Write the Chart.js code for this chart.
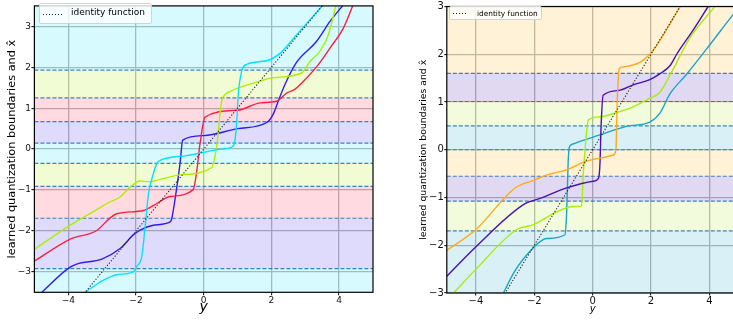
<!DOCTYPE html>
<html>
<head>
<meta charset="utf-8">
<script src="https://cdn.jsdelivr.net/npm/chart.js@4.4.0/dist/chart.umd.min.js"></script>
<style>
  html, body { margin: 0; padding: 0; background: #fff; }
  #wrap { position: relative; width: 733px; height: 320px; overflow: hidden; }
  canvas { position: absolute; top: 0; }
  #left { left: 0; }
  #right { left: 400px; }
  .legend { position: absolute; background: rgba(255,255,255,0.8); border: 1px solid #d3d3d3; border-radius: 2px; box-sizing: border-box; font-family: "DejaVu Sans"; color: #000; white-space: nowrap; }
  .legend .sample { position: absolute; height: 1px; background: repeating-linear-gradient(to right, #222 0 1px, transparent 1px 3px); }
  .legend .label { position: absolute; }
</style>
</head>
<body>
<div id="wrap">
  <canvas id="left" width="380" height="320"></canvas>
  <canvas id="right" width="345" height="320"></canvas>
  <div class="legend" style="left:39px; top:3px; width:113px; height:21px; font-size:9px;">
    <div class="sample" style="left:3px; width:19px; top:10px;"></div>
    <div class="label" style="left:31px; top:3px;">identity function</div>
  </div>
  <div class="legend" style="left:449px; top:6px; width:93px; height:14px; font-size:7.4px;">
    <div class="sample" style="left:3px; width:15px; top:6px;"></div>
    <div class="label" style="left:27px; top:2px;">identity function</div>
  </div>
</div>
<script>
// tick positions
const xTicks = [-4, -2, 0, 2, 4];
const leftYTicks = [-3, -2, -1, 0, 1, 2, 3];
const rightYTicks = [-3, -2, -1, 0, 1, 2, 3];

// learned quantization boundaries
const leftBoundaries = [1.93, 1.25, 0.67, 0.145, -0.35, -0.91, -1.69, -2.92];
const rightBoundaries = [1.60, 1.01, 0.50, 0.0, -0.555, -1.076, -1.70];

// identity function
const identityX = [-5, 5];
const identityY = [-5, 5];

// left panel curves
const leftCyanX = [-3.5, -3.06, -2.57, -2.08, -1.98, -1.83, -1.73, -1.63, -1.49, -1.39, -1.24, -0.5, 0, 0.5, 0.83, 0.92, 0.97, 1.02, 1.12, 1.27, 1.86, 2.25, 2.74, 3.5];
const leftCyanY = [-3.5, -3.25, -3.07, -3.0, -2.87, -2.63, -1.9, -1.09, -0.61, -0.36, -0.26, -0.16, -0.08, 0.0, 0.05, 0.2, 0.6, 1.33, 1.9, 2.07, 2.16, 2.34, 2.79, 3.5];

const leftYellowX = [-5, -3.94, -3.16, -2.81, -2.47, -2.15, -1.88, -1.63, -1.28, -0.7, 0.24, 0.3, 0.38, 0.53, 0.63, 0.78, 1.66, 2.0, 2.89, 3.14, 3.43, 3.68, 3.92];
const leftYellowY = [-2.45, -1.86, -1.48, -1.31, -1.17, -0.91, -0.78, -0.8, -0.74, -0.63, -0.45, -0.3, 0.04, 1.17, 1.33, 1.41, 1.66, 1.74, 1.86, 2.14, 2.39, 2.79, 3.56];

const leftRedX = [-5, -3.94, -3.16, -2.76, -2.57, -1.78, -1.49, -0.99, -0.31, -0.21, -0.11, 0.04, 1.0, 1.66, 2.15, 2.45, 2.69, 3.04, 3.38, 3.73, 4.12, 4.41];
const leftRedY = [-2.74, -2.2, -1.99, -1.68, -1.58, -1.5, -1.38, -1.16, -0.99, -0.57, 0.12, 0.78, 0.95, 1.13, 1.17, 1.37, 1.46, 1.74, 2.06, 2.47, 2.95, 3.52];

const leftBlueX = [-4.78, -3.99, -3.75, -3.01, -2.47, -2.08, -1.88, -1.49, -0.99, -0.95, -0.86, -0.7, -0.62, 0, 1.0, 1.86, 2.05, 2.2, 2.4, 2.74, 3.33, 3.73, 4.12];
const leftBlueY = [-3.5, -2.91, -2.81, -2.69, -2.43, -2.1, -1.98, -1.86, -1.78, -1.72, -1.3, -0.36, 0.22, 0.33, 0.5, 0.65, 0.85, 1.17, 1.58, 2.12, 2.63, 3.12, 3.52];

// right panel curves
const rightOrangeX = [-5, -4.0, -2.66, -2.03, -1.58, -0.89, -0.26, 0.3, 0.71, 0.8, 0.84, 0.91, 0.99, 1.62, 1.96, 2.3, 3.0];
const rightOrangeY = [-2.11, -1.67, -0.8, -0.64, -0.53, -0.42, -0.25, -0.17, -0.11, 0.02, 0.97, 1.69, 1.73, 1.83, 2.0, 2.28, 3.0];

const rightIndigoX = [-5, -4.0, -2.32, -1.8, -0.89, 0.02, 0.2, 0.25, 0.29, 0.36, 0.88, 1.39, 1.96, 2.3, 2.65, 2.88, 3.45, 3.96];
const rightIndigoY = [-2.65, -2.03, -1.13, -1.02, -0.8, -0.66, -0.6, -0.3, 0.5, 1.14, 1.24, 1.36, 1.47, 1.59, 1.76, 2.0, 2.51, 3.0];

const rightYellowX = [-4.77, -4.0, -2.6, -2.03, -1.23, -0.66, -0.38, -0.32, -0.26, -0.15, 0.25, 0.71, 1.39, 1.96, 2.3, 2.7, 3.33, 4.19];
const rightYellowY = [-3.0, -2.5, -1.67, -1.57, -1.3, -1.19, -1.18, -0.5, 0.0, 0.62, 0.69, 0.76, 0.9, 1.08, 1.2, 1.62, 2.34, 3.0];

const rightTealX = [-3.06, -2.66, -2.03, -1.58, -0.95, -0.89, -0.84, -0.8, -0.72, 0.25, 1.16, 1.96, 2.3, 2.65, 3.22, 4.02, 4.8, 5.0];
const rightTealY = [-3.0, -2.53, -2.05, -1.86, -1.78, -1.3, -0.27, 0.05, 0.11, 0.31, 0.49, 0.58, 0.76, 1.17, 1.58, 2.2, 2.82, 2.97];

Chart.defaults.font.family = "DejaVu Sans";

function pts(xs, ys) {
  return xs.map((x, i) => ({ x: x, y: ys[i] }));
}

function curve(xs, ys, color) {
  return {
    data: pts(xs, ys),
    borderColor: color,
    borderWidth: 1.4,
    pointRadius: 0,
    fill: false,
    cubicInterpolationMode: "monotone",
    order: 2,
  };
}

// shaded quantization cells + dashed boundaries
function bandSets(bounds, yMin, yMax, colors) {
  const edges = [yMax].concat(bounds, [yMin]);
  const sets = [];
  for (let i = 0; i < edges.length - 1; i++) {
    sets.push({
      data: [{ x: -5, y: edges[i] }, { x: 5, y: edges[i] }],
      fill: { value: edges[i + 1] },
      backgroundColor: colors[i % colors.length],
      borderWidth: 0,
      pointRadius: 0,
      order: 20,
    });
  }
  bounds.forEach((b) => {
    sets.push({
      data: [{ x: -5, y: b }, { x: 5, y: b }],
      borderColor: "rgba(31, 110, 180, 0.85)",
      borderDash: [4, 2],
      borderWidth: 1.2,
      pointRadius: 0,
      fill: false,
      order: 10,
    });
  });
  return sets;
}

function identitySet() {
  return {
    data: pts(identityX, identityY),
    borderColor: "#222",
    borderDash: [1.2, 1.8],
    borderWidth: 1.1,
    pointRadius: 0,
    fill: false,
    order: 1,
  };
}

// axes frame on all four sides
const frame = {
  id: "frame",
  afterDraw(chart) {
    const a = chart.chartArea;
    const ctx = chart.ctx;
    ctx.save();
    ctx.strokeStyle = "#000";
    ctx.lineWidth = 1.2;
    ctx.strokeRect(a.left, a.top, a.right - a.left, a.bottom - a.top);
    ctx.restore();
  },
};

function tickLabel(v) {
  return v < 0 ? "\u2212" + Math.abs(v) : String(v);
}

function makeChart(id, cfg) {
  return new Chart(document.getElementById(id), {
    type: "line",
    data: { datasets: cfg.datasets },
    options: {
      responsive: false,
      animation: false,
      devicePixelRatio: 1,
      layout: { padding: cfg.padding },
      plugins: { legend: { display: false }, tooltip: { enabled: false } },
      elements: { line: { tension: 0 } },
      scales: {
        x: {
          type: "linear",
          min: -5,
          max: 5,
          afterBuildTicks: (s) => { s.ticks = xTicks.map((v) => ({ value: v })); },
          afterFit: (s) => { s.height = cfg.xHeight; },
          border: { display: false },
          grid: { color: "#b8b8b8", lineWidth: 1.3, tickColor: "#000", tickLength: cfg.tickLen, tickWidth: 1 },
          ticks: { color: "#111", padding: 0, font: { size: cfg.tickSize }, callback: tickLabel, maxRotation: 0 },
          title: { display: true, text: "y", color: "#000", font: { size: cfg.xTitleSize, style: "italic" }, padding: { top: 0, bottom: 4.6 } },
        },
        y: {
          type: "linear",
          min: cfg.yMin,
          max: cfg.yMax,
          afterBuildTicks: (s) => { s.ticks = cfg.yTicks.map((v) => ({ value: v })); },
          afterFit: (s) => { s.width = cfg.yWidth; },
          border: { display: false },
          grid: { color: "#b8b8b8", lineWidth: 1.3, tickColor: "#000", tickLength: cfg.tickLen, tickWidth: 1 },
          ticks: { color: "#111", padding: 0.5, font: { size: cfg.tickSize }, callback: tickLabel },
          title: { display: true, text: "learned quantization boundaries and x\u0302", color: "#000", font: { size: cfg.yTitleSize }, padding: { top: cfg.yTitlePad, bottom: 0 } },
        },
      },
    },
    plugins: [frame],
  });
}

// left panel
makeChart("left", {
  datasets: [identitySet()].concat(
    [
      curve(leftCyanX, leftCyanY, "#00e3ff"),
      curve(leftYellowX, leftYellowY, "#aeee00"),
      curve(leftRedX, leftRedY, "#ff1e44"),
      curve(leftBlueX, leftBlueY, "#2e1cf2"),
    ],
    bandSets(leftBoundaries, -3.5, 3.5, [
      "rgba(0, 225, 250, 0.16)",
      "rgba(175, 235, 0, 0.17)",
      "rgba(255, 40, 80, 0.17)",
      "rgba(60, 40, 235, 0.17)",
    ])
  ),
  padding: { left: 0, top: 3.3, right: 7, bottom: 0 },
  xHeight: 27.7,
  yWidth: 34.4,
  yMin: -3.5,
  yMax: 3.5,
  yTicks: leftYTicks,
  tickLen: 3,
  tickSize: 9,
  xTitleSize: 14,
  yTitleSize: 11.3,
  yTitlePad: 5.7,
});

// right panel
makeChart("right", {
  datasets: [identitySet()].concat(
    [
      curve(rightOrangeX, rightOrangeY, "#ffaa18"),
      curve(rightIndigoX, rightIndigoY, "#4a10b4"),
      curve(rightYellowX, rightYellowY, "#a6ee12"),
      curve(rightTealX, rightTealY, "#18a5c9"),
    ],
    bandSets(rightBoundaries, -3, 3, [
      "rgba(255, 175, 20, 0.17)",
      "rgba(80, 30, 170, 0.17)",
      "rgba(170, 235, 20, 0.15)",
      "rgba(20, 160, 200, 0.16)",
    ])
  ),
  padding: { left: 0, top: 1.5, right: 6.5, bottom: 0 },
  xHeight: 27,
  yWidth: 46.8,
  yMin: -3,
  yMax: 3,
  yTicks: rightYTicks,
  tickLen: 2.5,
  tickSize: 10,
  xTitleSize: 10,
  yTitleSize: 9.3,
  yTitlePad: 17.7,
});
</script>
</body>
</html>
